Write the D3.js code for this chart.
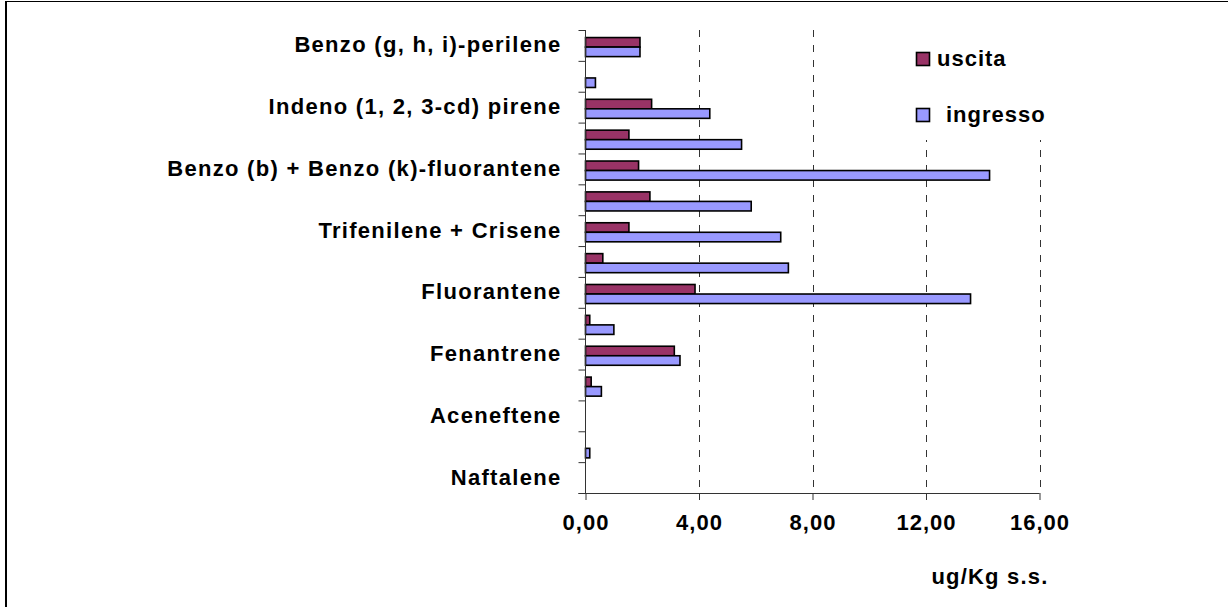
<!DOCTYPE html>
<html>
<head>
<meta charset="utf-8">
<script src="https://cdn.jsdelivr.net/npm/d3@7"></script>
<style>
  html, body { margin: 0; padding: 0; background: #fff; }
  svg text { font-family: "Liberation Sans", Arial, sans-serif; font-weight: bold; fill: #000; }
</style>
</head>
<body>
<svg id="chart" width="1228" height="607"></svg>
<script>
// Compounds, bottom to top; only every other name is printed on the axis
const categories = [
  "Naftalene", "Acenaftilene", "Aceneftene", "Fluorene", "Fenantrene",
  "Antracene", "Fluorantene", "Pirene", "Trifenilene + Crisene", "Benzo (a) antracene",
  "Benzo (b) + Benzo (k)-fluorantene", "Benzo (a) pirene", "Indeno (1, 2, 3-cd) pirene",
  "Dibenzo (a, h) antracene", "Benzo (g, h, i)-perilene"
];
const shownLabels = [
  "Naftalene", "Aceneftene", "Fenantrene", "Fluorantene", "Trifenilene + Crisene",
  "Benzo (b) + Benzo (k)-fluorantene", "Indeno (1, 2, 3-cd) pirene", "Benzo (g, h, i)-perilene"
];
const uscita   = [0, 0, 0, 0.20, 3.13, 0.15, 3.86, 0.61, 1.53, 2.27, 1.87, 1.53, 2.33, 0, 1.92];
const ingresso = [0, 0.15, 0, 0.56, 3.33, 1.00, 13.57, 7.15, 6.88, 5.84, 14.24, 5.50, 4.38, 0.35, 1.92];
const seriesNames = ["uscita", "ingresso"];
const seriesColors = { uscita: "#993366", ingresso: "#9999FF" };
const xTicks = [0, 4, 8, 12, 16];
const xTitle = "ug/Kg s.s.";

const svg = d3.select("#chart");

// frame lines
svg.append("line").attr("x1", 6).attr("x2", 6).attr("y1", 1).attr("y2", 607)
  .attr("stroke", "#000").attr("stroke-width", 2);
svg.append("line").attr("x1", 5).attr("x2", 1228).attr("y1", 1.5).attr("y2", 1.5)
  .attr("stroke", "#000").attr("stroke-width", 1);

const plot = { left: 585.5, right: 1039.5, top: 30, bottom: 493 };

const x = d3.scaleLinear().domain([0, 16]).range([plot.left, plot.right]);
const y = d3.scaleBand().domain(categories.slice().reverse())
  .range([plot.top, plot.bottom]).paddingInner(0).paddingOuter(0);
const ySub = d3.scaleBand().domain(seriesNames)
  .range([0, y.bandwidth()]).paddingInner(0).paddingOuter(0.62).align(0.64);

// dashed vertical gridlines
svg.append("g").selectAll("line").data(xTicks.filter(d => d > 0)).join("line")
  .attr("x1", d => Math.round(x(d)) + 0.5).attr("x2", d => Math.round(x(d)) + 0.5)
  .attr("y1", plot.top).attr("y2", plot.bottom)
  .attr("stroke", "#333").attr("stroke-width", 1).attr("stroke-dasharray", "7,8");

// legend panel (white background hides grid behind it)
const legend = svg.append("g");
legend.append("rect").attr("x", 895).attr("y", 22).attr("width", 170).attr("height", 118)
  .attr("fill", "#fff");
const legendRows = [
  { name: "uscita", label: "uscita", y: 52, tx: 937 },
  { name: "ingresso", label: "ingresso", y: 108, tx: 946 }
];
legend.selectAll("rect.key").data(legendRows).join("rect").attr("class", "key")
  .attr("x", 916.5).attr("y", d => d.y + 0.5).attr("width", 13).attr("height", 13)
  .attr("fill", d => seriesColors[d.name]).attr("stroke", "#000").attr("stroke-width", 1.6);
legend.selectAll("text").data(legendRows).join("text")
  .attr("x", d => d.tx).attr("y", d => d.y + 14)
  .attr("font-size", 22).attr("letter-spacing", 1)
  .text(d => d.label);

// bars
const rows = categories.map((c, i) => ({ cat: c, uscita: uscita[i], ingresso: ingresso[i] }));
const groups = svg.append("g").selectAll("g").data(rows).join("g")
  .attr("transform", d => `translate(0,${y(d.cat)})`);
groups.selectAll("rect")
  .data(d => seriesNames.map(s => ({ s, v: d[s] })).filter(e => e.v > 0))
  .join("rect")
  .attr("x", x(0))
  .attr("y", d => ySub(d.s))
  .attr("width", d => x(d.v) - x(0))
  .attr("height", ySub.bandwidth())
  .attr("fill", d => seriesColors[d.s])
  .attr("stroke", "#000").attr("stroke-width", 1.6);

// y axis: boundary ticks
const yEdges = d3.scaleLinear().domain([0, categories.length]).range([plot.bottom, plot.top]);
const yTickAxis = svg.append("g").attr("transform", `translate(${plot.left},0)`)
  .call(d3.axisLeft(yEdges).tickValues(d3.range(0, categories.length + 1))
    .tickSize(7).tickFormat(""));
yTickAxis.selectAll("path, line").attr("stroke", "#333");
yTickAxis.select("path").attr("d", `M0,${plot.top}V${plot.bottom}`);

// y axis: category names
const yLabelAxis = svg.append("g").attr("transform", `translate(${plot.left},0)`)
  .call(d3.axisLeft(y).tickSize(0).tickPadding(24)
    .tickFormat(d => shownLabels.includes(d) ? d : ""));
yLabelAxis.select("path").remove();
yLabelAxis.selectAll("text").attr("font-size", 22).attr("letter-spacing", 1.3)
  .attr("font-family", null).attr("fill", null);

// x axis
const xAxis = svg.append("g").attr("transform", `translate(0,${plot.bottom})`)
  .call(d3.axisBottom(x).tickValues(xTicks).tickSize(7).tickPadding(14)
    .tickFormat(d => d3.format(".2f")(d).replace(".", ",")));
xAxis.selectAll("path, line").attr("stroke", "#333");
xAxis.select("path").attr("d", `M${plot.left - 7},0.5H${plot.right}`);
xAxis.selectAll("text").attr("font-size", 22).attr("letter-spacing", 1)
  .attr("font-family", null).attr("fill", null);

svg.append("text").attr("x", 990).attr("y", 584).attr("text-anchor", "middle")
  .attr("font-size", 22).attr("letter-spacing", 1.2).text(xTitle);
</script>
</body>
</html>
